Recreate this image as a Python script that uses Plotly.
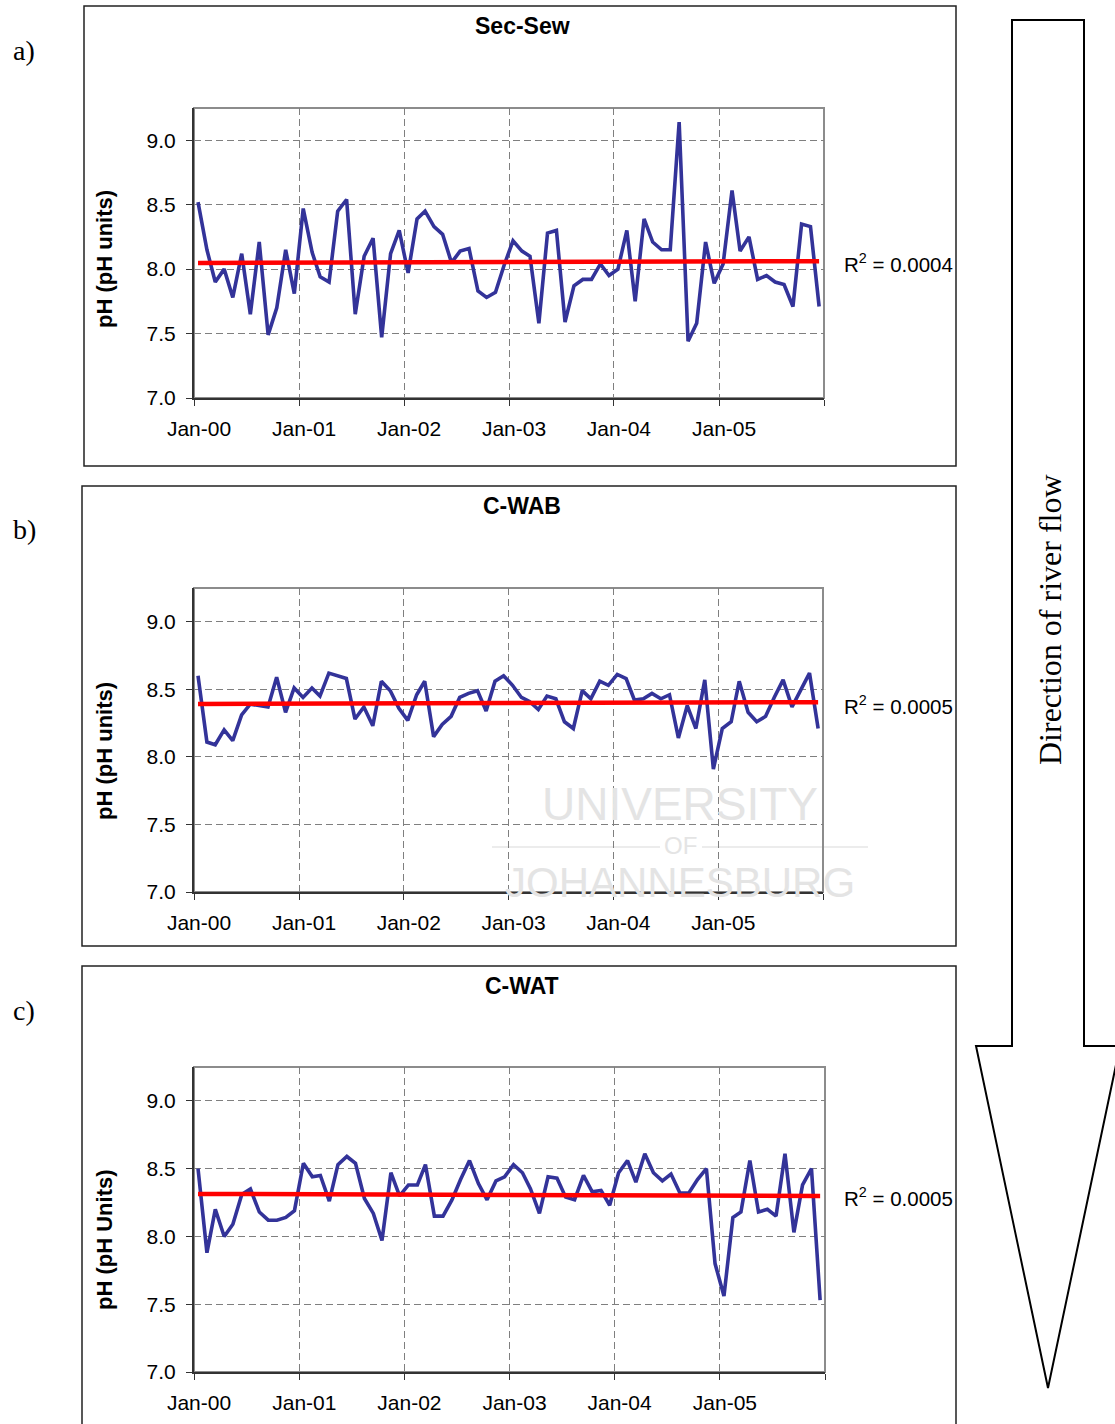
import numpy as np
import plotly.graph_objects as go

W, H = 1115, 1424

# ---------------- data ----------------
months = [f"{2000 + i // 12}-{i % 12 + 1:02d}-15" for i in range(72)]

sec_sew = [8.52, 8.15, 7.90, 8.00, 7.78, 8.12, 7.65, 8.21, 7.49, 7.70, 8.15, 7.81,
           8.47, 8.13, 7.94, 7.90, 8.45, 8.54, 7.65, 8.10, 8.24, 7.47, 8.12, 8.30,
           7.97, 8.39, 8.45, 8.33, 8.27, 8.05, 8.14, 8.16, 7.83, 7.78, 7.82, 8.03,
           8.22, 8.14, 8.10, 7.58, 8.28, 8.30, 7.59, 7.87, 7.92, 7.92, 8.04, 7.95,
           8.00, 8.30, 7.75, 8.39, 8.21, 8.15, 8.15, 9.14, 7.44, 7.58, 8.21, 7.89,
           8.04, 8.61, 8.14, 8.25, 7.92, 7.95, 7.90, 7.88, 7.71, 8.35, 8.33, 7.71]

c_wab = [8.60, 8.11, 8.09, 8.20, 8.12, 8.31, 8.39, 8.38, 8.37, 8.59, 8.33, 8.51,
         8.44, 8.51, 8.45, 8.62, 8.60, 8.58, 8.28, 8.37, 8.23, 8.56, 8.49, 8.36,
         8.27, 8.46, 8.56, 8.15, 8.24, 8.30, 8.44, 8.47, 8.49, 8.34, 8.56, 8.60,
         8.53, 8.44, 8.41, 8.35, 8.45, 8.43, 8.26, 8.21, 8.49, 8.43, 8.56, 8.53,
         8.61, 8.58, 8.42, 8.43, 8.47, 8.43, 8.46, 8.14, 8.38, 8.21, 8.57, 7.91,
         8.21, 8.26, 8.56, 8.33, 8.26, 8.30, 8.44, 8.57, 8.37, 8.49, 8.62, 8.21]

c_wat = [8.50, 7.88, 8.20, 8.00, 8.09, 8.31, 8.35, 8.18, 8.12, 8.12, 8.14, 8.19,
         8.54, 8.44, 8.45, 8.26, 8.53, 8.59, 8.54, 8.28, 8.17, 7.97, 8.47, 8.30,
         8.38, 8.38, 8.53, 8.15, 8.15, 8.27, 8.42, 8.56, 8.39, 8.27, 8.41, 8.44,
         8.53, 8.47, 8.35, 8.17, 8.44, 8.43, 8.29, 8.27, 8.45, 8.33, 8.34, 8.23,
         8.47, 8.56, 8.40, 8.61, 8.47, 8.41, 8.46, 8.32, 8.32, 8.42, 8.50, 7.80,
         7.56, 8.14, 8.18, 8.56, 8.18, 8.20, 8.15, 8.61, 8.03, 8.38, 8.50, 7.53]

series = [sec_sew, c_wab, c_wat]
titles = ["Sec-Sew", "C-WAB", "C-WAT"]
ytitles = ["pH (pH units)", "pH (pH units)", "pH (pH Units)"]
r2_labels = ["R<sup>2</sup> = 0.0004", "R<sup>2</sup> = 0.0005", "R<sup>2</sup> = 0.0005"]
panel_labels = ["a)", "b)", "c)"]

x_tickvals = [f"{y}-01-01" for y in range(2000, 2007)]
x_ticktext = ["Jan-00", "Jan-01", "Jan-02", "Jan-03", "Jan-04", "Jan-05", " "]
y_tickvals = [7.0, 7.5, 8.0, 8.5, 9.0]
y_ticktext = ["7.0", "7.5", "8.0", "8.5", "9.0"]

# ---------------- layout geometry (pixels) ----------------
def px(x):
    return x / W

def py(y):
    return 1 - y / H

plot_boxes = [  # x0, x1, ytop, ybottom of the plot area
    (194, 824, 108, 398),
    (194, 823, 588, 892),
    (194, 825, 1067, 1372),
]
frames = [(84, 6, 956, 466), (82, 486, 956, 946), (82, 966, 956, 1440)]
title_y = [26, 506, 986]
ytitle_y = [259, 751, 1240]
r2_y = [263, 705, 1197]
label_y = [50, 530, 1010]

SANS = "Liberation Sans, Arial, sans-serif"
SERIF = "Liberation Serif, Times New Roman, serif"

fig = go.Figure()
shapes = []
annotations = []
layout = dict(
    template="none",
    width=W, height=H, autosize=False,
    margin=dict(l=0, r=0, t=0, b=0, pad=0, autoexpand=False),
    paper_bgcolor="white", plot_bgcolor="white",
    showlegend=False,
    font=dict(family=SANS, color="black"),
)

# watermark (faint)
for txt, cy, sz in [("UNIVERSITY", 804, 46), ("OF", 845, 24), ("JOHANNESBURG", 883, 42)]:
    annotations.append(dict(text=txt, x=px(680), y=py(cy), xref="paper", yref="paper",
                            showarrow=False, xanchor="center", yanchor="middle",
                            font=dict(family=SANS, size=sz, color="#e4e4e4")))
shapes.append(dict(type="line", xref="paper", yref="paper", x0=px(492), x1=px(660),
                   y0=py(847), y1=py(847), line=dict(color="#ececec", width=2), layer="below"))
shapes.append(dict(type="line", xref="paper", yref="paper", x0=px(702), x1=px(868),
                   y0=py(847), y1=py(847), line=dict(color="#ececec", width=2), layer="below"))

for k in range(3):
    vals = np.array(series[k])
    idx = np.arange(len(vals))
    slope, icpt = np.polyfit(idx, vals, 1)
    trend = slope * idx + icpt
    suffix = "" if k == 0 else str(k + 1)
    xa, ya = "x" + suffix, "y" + suffix

    fig.add_trace(go.Scatter(x=months, y=vals, mode="lines", xaxis=xa, yaxis=ya,
                             line=dict(color="#333399", width=3.6), hoverinfo="skip"))
    fig.add_trace(go.Scatter(x=[months[0], months[-1]], y=[trend[0], trend[-1]],
                             mode="lines", xaxis=xa, yaxis=ya,
                             line=dict(color="#ff0000", width=4.5), hoverinfo="skip"))

    x0, x1, yt, yb = plot_boxes[k]
    layout["xaxis" + suffix] = dict(
        domain=[px(x0), px(x1)], anchor=ya, type="date", automargin=False,
        range=["2000-01-01", "2006-01-01"],
        tickmode="array", tickvals=x_tickvals, ticktext=x_ticktext,
        showgrid=True, gridcolor="#7f7f7f", gridwidth=1, griddash="7px,4px",
        ticks="outside", ticklen=6, tickcolor="#333333", tickwidth=1,
        showline=True, linecolor="#333333", linewidth=2, zeroline=False,
        tickfont=dict(family=SANS, size=21, color="black"),
        ticklabelshift=5, ticklabelstandoff=5, fixedrange=True,
    )
    layout["yaxis" + suffix] = dict(
        domain=[py(yb), py(yt)], anchor=xa, range=[7.0, 9.25], automargin=False,
        tickmode="array", tickvals=y_tickvals, ticktext=y_ticktext,
        showgrid=True, gridcolor="#7f7f7f", gridwidth=1, griddash="7px,4px",
        ticks="outside", ticklen=6, tickcolor="#333333", tickwidth=1,
        showline=True, linecolor="#333333", linewidth=2, zeroline=False,
        tickfont=dict(family=SANS, size=21, color="black"),
        ticklabelstandoff=6, fixedrange=True,
    )
    # plot-area border (top / right grey)
    shapes.append(dict(type="rect", xref=xa + " domain", yref=ya + " domain",
                       x0=0, x1=1, y0=0, y1=1, line=dict(color="#8c8c8c", width=2),
                       layer="below"))
    # chart frame
    fx0, fy0, fx1, fy1 = frames[k]
    shapes.append(dict(type="rect", xref="paper", yref="paper",
                       x0=px(fx0), x1=px(fx1), y0=py(fy1), y1=py(fy0),
                       line=dict(color="#222222", width=1.5)))
    annotations.append(dict(text="<b>" + titles[k] + "</b>", x=px(522), y=py(title_y[k]),
                            xref="paper", yref="paper", showarrow=False,
                            xanchor="center", yanchor="middle",
                            font=dict(family=SANS, size=23, color="black")))
    annotations.append(dict(text="<b>" + ytitles[k] + "</b>", x=px(104), y=py(ytitle_y[k]),
                            xref="paper", yref="paper", showarrow=False, textangle=-90,
                            xanchor="center", yanchor="middle",
                            font=dict(family=SANS, size=22, color="black")))
    annotations.append(dict(text=r2_labels[k], x=px(842), y=py(r2_y[k]),
                            xref="paper", yref="paper", showarrow=False,
                            xanchor="left", yanchor="middle",
                            font=dict(family=SANS, size=20.5, color="black")))
    annotations.append(dict(text=panel_labels[k], x=px(24), y=py(label_y[k]),
                            xref="paper", yref="paper", showarrow=False,
                            xanchor="center", yanchor="middle",
                            font=dict(family=SERIF, size=28, color="black")))

# river-flow arrow
arrow_pts = [(1012, 20), (1084, 20), (1084, 1046), (1120, 1046), (1048, 1388),
             (976, 1046), (1012, 1046)]
path = "M " + " L ".join(f"{px(x):.5f},{py(y):.5f}" for x, y in arrow_pts) + " Z"
shapes.append(dict(type="path", xref="paper", yref="paper", path=path,
                   line=dict(color="black", width=2), fillcolor="rgba(0,0,0,0)"))
annotations.append(dict(text="Direction of river flow", x=px(1050), y=py(620),
                        xref="paper", yref="paper", showarrow=False, textangle=-90,
                        xanchor="center", yanchor="middle",
                        font=dict(family=SERIF, size=32, color="black")))

layout["shapes"] = shapes
layout["annotations"] = annotations
fig.update_layout(**layout)

fig.write_html("out.html", config={"displayModeBar": False, "staticPlot": True},
               post_script="document.body.style.margin='0';document.body.style.overflow='hidden';")
